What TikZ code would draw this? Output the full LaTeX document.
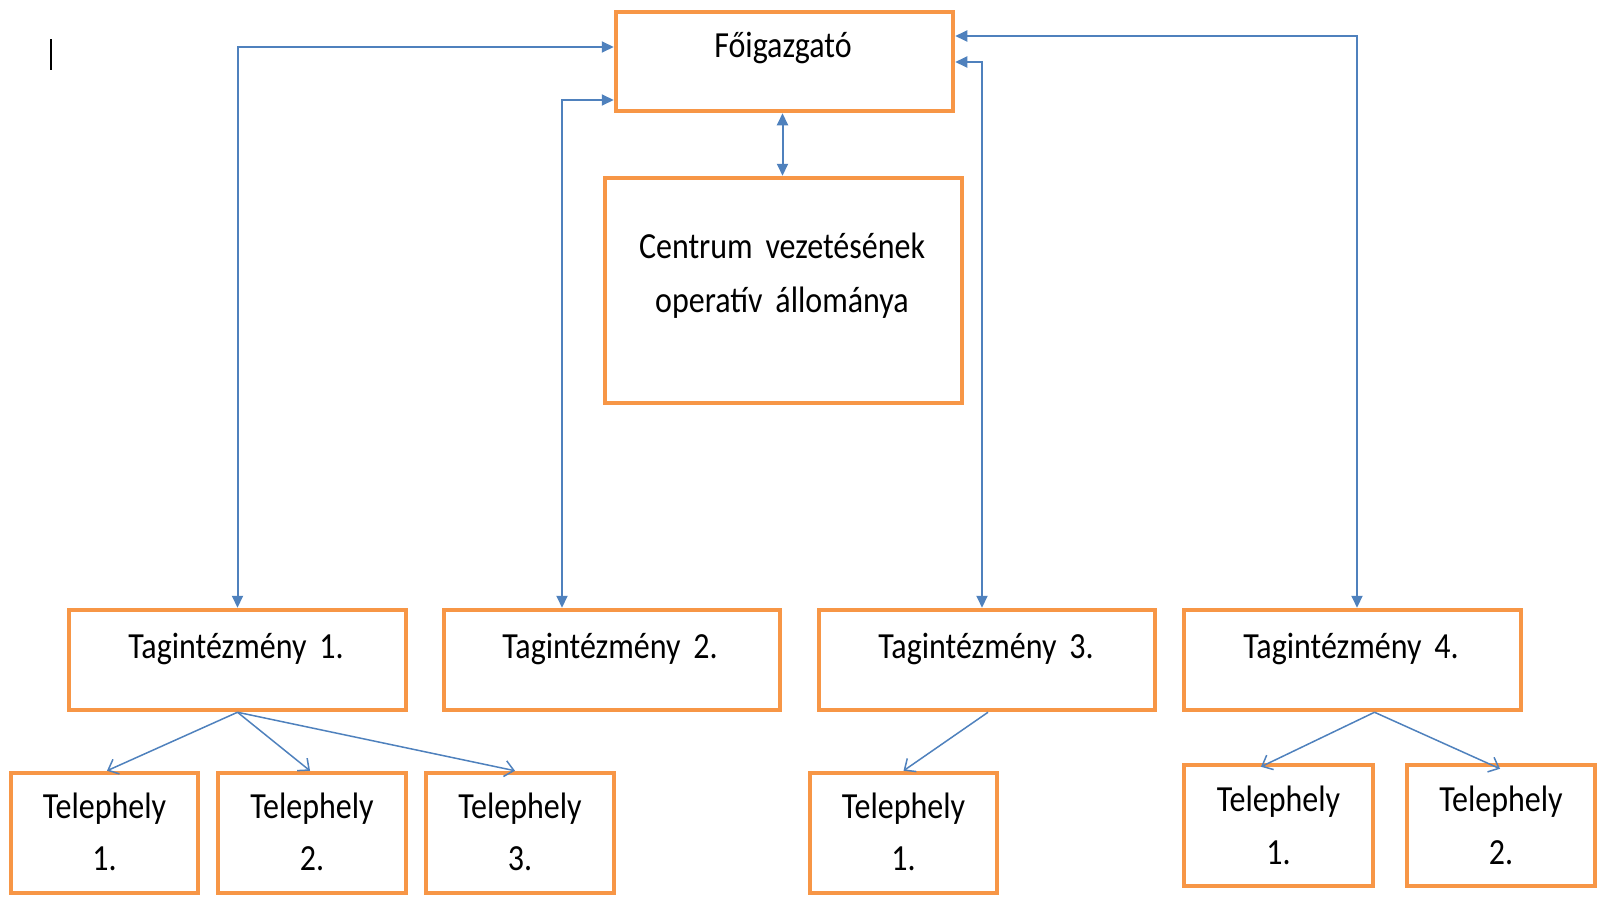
\documentclass[tikz,border=0pt]{standalone}
\usepackage{fontspec}
\usepackage{graphicx}
\setmainfont{Carlito}
\usetikzlibrary{arrows.meta,calc}
\definecolor{boxorange}{HTML}{F79646}
\definecolor{lineblue}{HTML}{4F81BD}
\newcommand{\tx}[1]{\scalebox{1}[1.15]{#1}}
\newcommand{\lblfont}{\fontsize{32}{38}\selectfont\spaceskip=0.4em\relax}
\tikzset{
  box/.style={draw=boxorange, line width=4.5pt, rectangle, inner sep=0pt, fill=white},
  lbl/.style={anchor=base, inner sep=0pt, font=\lblfont},
  conn/.style={draw=lineblue, line width=2pt, {Triangle[length=12pt,width=11pt]}-{Triangle[length=12pt,width=11pt]}},
  branch/.style={draw=lineblue, line width=1.5pt, -{Straight Barb[length=9pt,width=16pt]}}
}
\begin{document}
\begin{tikzpicture}[x=1pt,y=-1pt]
\useasboundingbox (0,0) rectangle (1598,897);
% boxes
\node[box, minimum width=337pt, minimum height=99pt] (fo) at (784.5,61.5) {};
\node[box, minimum width=357pt, minimum height=225pt] (cen) at (783.5,290.5) {};
\node[box, minimum width=337pt, minimum height=100pt] (t1) at (237.5,660) {};
\node[box, minimum width=336pt, minimum height=100pt] (t2) at (612,660) {};
\node[box, minimum width=336pt, minimum height=100pt] (t3) at (987,660) {};
\node[box, minimum width=337pt, minimum height=100pt] (t4) at (1352.5,660) {};
\node[box, minimum width=187pt, minimum height=120pt] (s11) at (104.5,833) {};
\node[box, minimum width=188pt, minimum height=120pt] (s12) at (312,833) {};
\node[box, minimum width=188pt, minimum height=120pt] (s13) at (520,833) {};
\node[box, minimum width=187pt, minimum height=120pt] (s31) at (903.5,833) {};
\node[box, minimum width=189pt, minimum height=121pt] (s41) at (1278.5,825.5) {};
\node[box, minimum width=188pt, minimum height=121pt] (s42) at (1501,825.5) {};
% texts
\node[lbl] (fotx) at (783,57) {\tx{Főigazgató}};
\node[lbl] (cen1) at (782,258) {\tx{Centrum vezetésének}};
\node[lbl] (cen2) at (782,312) {\tx{operatív állománya}};
\node[lbl] (t1tx) at (236,658) {\tx{Tagintézmény 1.}};
\node[lbl] (t2tx) at (610,658) {\tx{Tagintézmény 2.}};
\node[lbl] (t3tx) at (986,658) {\tx{Tagintézmény 3.}};
\node[lbl] (t4tx) at (1351,658) {\tx{Tagintézmény 4.}};
\foreach \n/\x/\num in {a/104.5/1., b/312/2., c/520/3., d/903.5/1.}{
  \node[lbl] (tel\n) at (\x,818) {\tx{Telephely}};
  \node[lbl] (num\n) at (\x,870) {\tx{\num}};
}
\foreach \n/\x/\num in {e/1278.5/1., f/1501/2.}{
  \node[lbl] (tel\n) at (\x,811) {\tx{Telephely}};
  \node[lbl] (num\n) at (\x,864) {\tx{\num}};
}
% top connectors
\draw[conn] ([yshift=14.5pt]fo.west) -| (t1.north);
\draw[conn] ([yshift=-38.5pt]fo.west) -| ([xshift=-50pt]t2.north);
\draw[conn] ([yshift=-0.5pt]fo.east) -| ([xshift=-5pt]t3.north);
\draw[conn] ([yshift=25.5pt]fo.east) -| ([xshift=4.5pt]t4.north);
\draw[conn] ([xshift=-2pt]fo.south) -- ([xshift=-2pt]fo.south |- cen.north);
% branches
\draw[branch] (t1.south) -- ([xshift=2.5pt]s11.north);
\draw[branch] (t1.south) -- ([xshift=-2pt]s12.north);
\draw[branch] (t1.south) -- ([xshift=-5pt]s13.north);
\draw[branch] ([xshift=1pt]t3.south) -- (s31.north);
\draw[branch] ([xshift=22pt]t4.south) -- ([xshift=-17.5pt,yshift=-4pt]s41.north);
\draw[branch] ([xshift=22pt]t4.south) -- ([xshift=-1pt,yshift=-6pt]s42.north);
% text cursor
\draw[line width=2.8pt] (51,39) -- (51,70);
\end{tikzpicture}
\end{document}
